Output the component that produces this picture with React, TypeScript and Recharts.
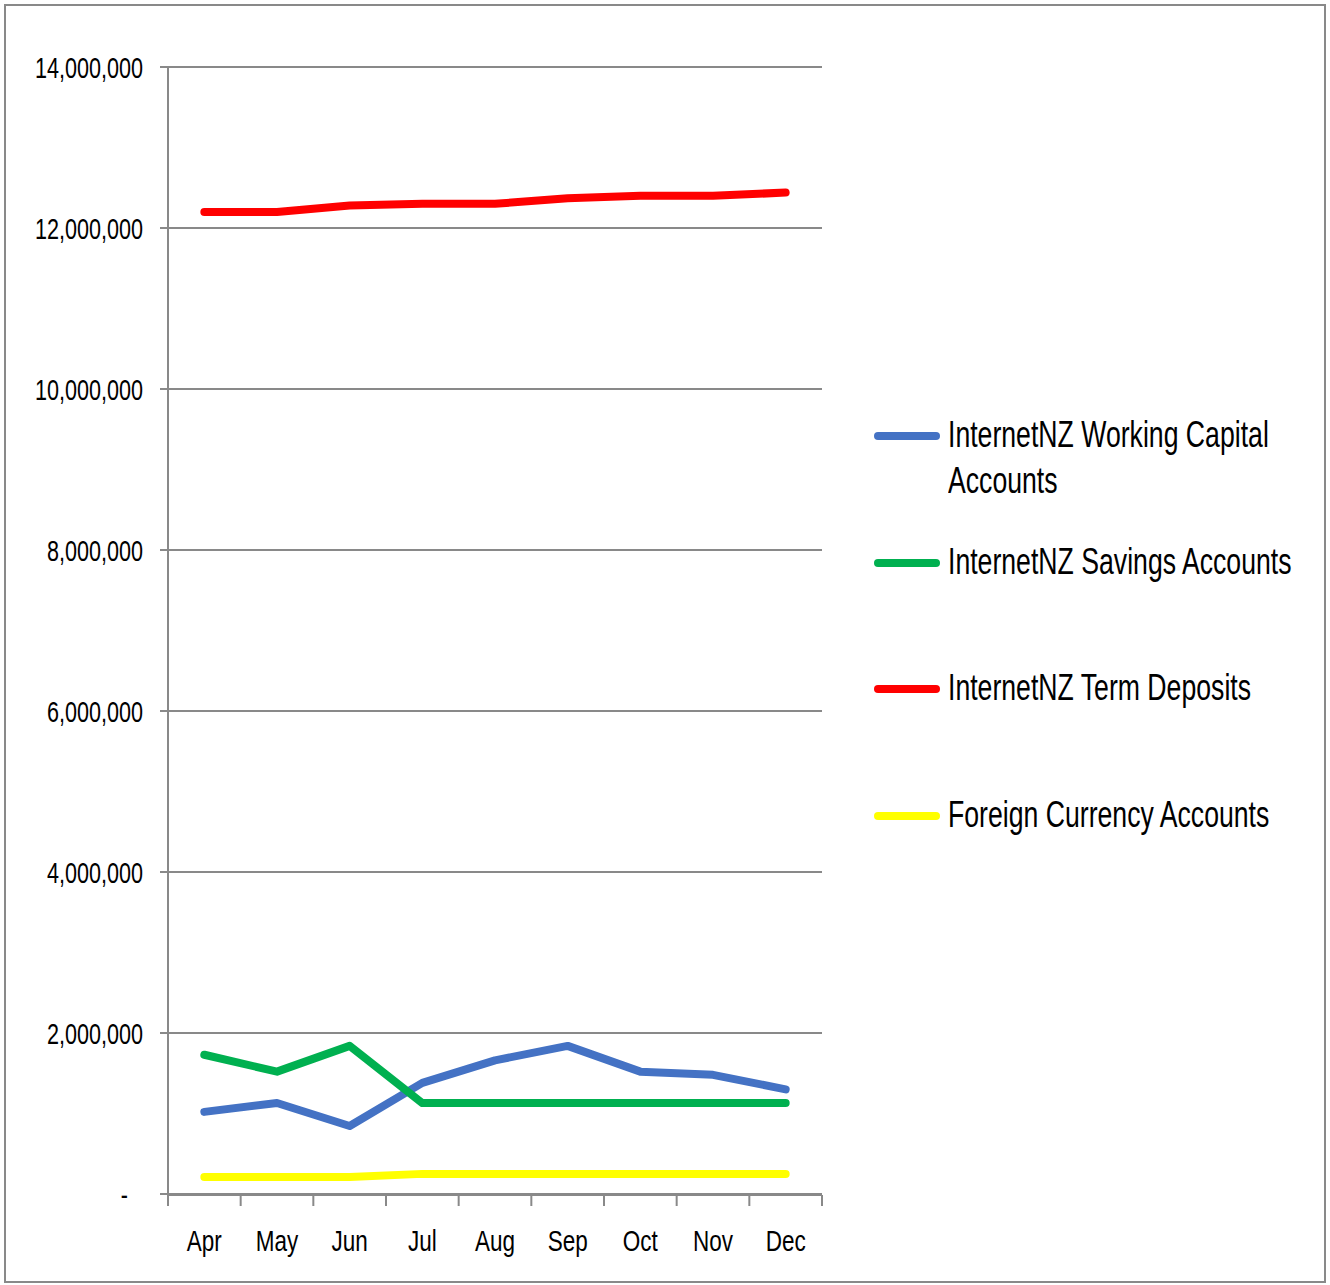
import React from "react";
import { LineChart, Line, XAxis, YAxis, CartesianGrid } from "recharts";

document.body.style.margin = "0";

const months = ["Apr", "May", "Jun", "Jul", "Aug", "Sep", "Oct", "Nov", "Dec"];
const workingCapital = [1020000, 1130000, 845000, 1380000, 1660000, 1840000, 1520000, 1480000, 1300000];
const savings = [1730000, 1520000, 1840000, 1130000, 1130000, 1130000, 1130000, 1130000, 1130000];
const termDeposits = [12200000, 12200000, 12280000, 12300000, 12300000, 12370000, 12400000, 12400000, 12440000];
const foreignCurrency = [210000, 210000, 210000, 250000, 250000, 250000, 250000, 250000, 250000];
const yTicks = [0, 2000000, 4000000, 6000000, 8000000, 10000000, 12000000, 14000000];

// the edge axis spans the row indices 0..n-1; its ticks mark the n+1 category boundaries
const lastIndex = months.length - 1;
const bandEdges = Array.from({ length: months.length + 1 }, (_, k) => (k * lastIndex) / months.length);

const series = [
  { key: "working", name: "InternetNZ Working Capital Accounts", color: "#4472C4" },
  { key: "savings", name: "InternetNZ Savings Accounts", color: "#00B050" },
  { key: "term", name: "InternetNZ Term Deposits", color: "#FF0000" },
  { key: "foreign", name: "Foreign Currency Accounts", color: "#FFFF00" },
];

const data = months.map((month, i) => ({
  month,
  working: workingCapital[i],
  savings: savings[i],
  term: termDeposits[i],
  foreign: foreignCurrency[i],
}));

// no condensed face is installed, so squeeze a regular one horizontally
const FONT = '"Liberation Sans", Arial, sans-serif';
const SQUEEZE = 0.72;
const GRAY = "#898989";

function YTick(props: any) {
  const { x, y, payload } = props;
  const v = payload.value as number;
  const label = v === 0 ? "-" : v.toLocaleString("en-US");
  return (
    <text
      transform={`translate(${v === 0 ? x - 15 : x},${y}) scale(${SQUEEZE},1)`}
      dy="0.355em"
      textAnchor="end"
      fill="#000"
      fontSize={30}
      fontFamily={FONT}
    >
      {label}
    </text>
  );
}

function XTick(props: any) {
  const { x, y, payload } = props;
  return (
    <text
      transform={`translate(${x},${y}) scale(${SQUEEZE + 0.03},1)`}
      dy="0.71em"
      textAnchor="middle"
      fill="#000"
      fontSize={30}
      fontFamily={FONT}
    >
      {payload.value}
    </text>
  );
}

const NoTick = () => <g />;

function LegendBox() {
  return (
    <div
      style={{
        position: "absolute",
        left: 874,
        top: 412,
        width: 440,
        fontFamily: FONT,
        fontSize: 37,
        color: "#000",
      }}
    >
      {series.map((s) => (
        <div key={s.key} style={{ display: "flex", height: 126.5, alignItems: "flex-start" }}>
          <span
            style={{
              display: "inline-block",
              width: 66,
              height: 8,
              borderRadius: 4,
              background: s.color,
              marginTop: 20,
              flex: "none",
            }}
          />
          <span
            style={{
              marginLeft: 8,
              lineHeight: "46px",
              width: 500,
              flex: "none",
              transform: `scaleX(${SQUEEZE})`,
              transformOrigin: "left top",
            }}
          >
            {s.name}
          </span>
        </div>
      ))}
    </div>
  );
}

export default function App() {
  return (
    <div style={{ position: "relative", width: 1330, height: 1285, background: "#fff", overflow: "hidden" }}>
      <div
        style={{
          position: "absolute",
          left: 4,
          top: 4,
          width: 1318,
          height: 1275,
          border: `2px solid ${GRAY}`,
        }}
      />
      <div style={{ position: "absolute", left: 0, top: 0 }}>
        <LineChart
          width={1330}
          height={1285}
          data={data}
          margin={{ top: 67, right: 508, left: 0, bottom: 31 }}
        >
          <CartesianGrid xAxisId="frame" vertical={false} stroke={GRAY} strokeWidth={2} />
          <XAxis
            xAxisId="frame"
            type="number"
            domain={[0, lastIndex]}
            allowDataOverflow
            ticks={bandEdges}
            interval={0}
            tick={<NoTick />}
            tickSize={11}
            height={59}
            axisLine={{ stroke: GRAY, strokeWidth: 2 }}
            tickLine={{ stroke: GRAY, strokeWidth: 2 }}
          />
          <XAxis
            xAxisId="cat"
            dataKey="month"
            scale="band"
            axisLine={false}
            tickLine={false}
            tickSize={0}
            tickMargin={36}
            height={1}
            interval={0}
            tick={<XTick />}
          />
          <YAxis
            domain={[0, 14000000]}
            ticks={yTicks}
            interval={0}
            width={168}
            tickSize={8}
            tickMargin={17}
            tick={<YTick />}
            axisLine={{ stroke: GRAY, strokeWidth: 2 }}
            tickLine={{ stroke: GRAY, strokeWidth: 2 }}
          />
          {series.map((s) => (
            <Line
              key={s.key}
              xAxisId="cat"
              type="linear"
              dataKey={s.key}
              name={s.name}
              stroke={s.color}
              strokeWidth={8}
              strokeLinecap="round"
              strokeLinejoin="round"
              dot={false}
              activeDot={false}
              isAnimationActive={false}
            />
          ))}
        </LineChart>
      </div>
      <LegendBox />
    </div>
  );
}
